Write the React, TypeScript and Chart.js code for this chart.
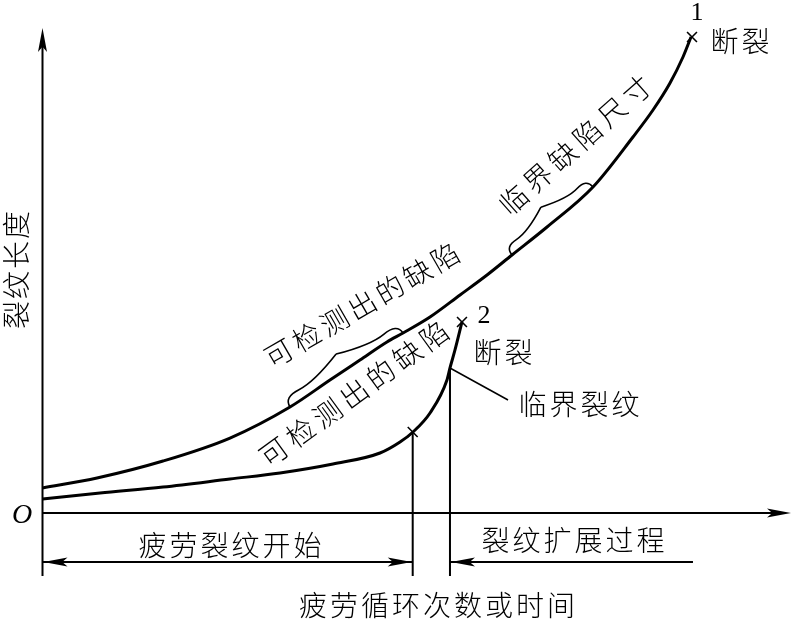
import React, { useEffect, useRef } from "react";
import { Chart, registerables } from "chart.js";
Chart.register(...registerables);

// Scale ranges (abstract units: cycles 0..100, crack length 0..100)
const X_MIN = -5.667;
const X_MAX = 100.067;
const Y_MIN = -22.06;
const Y_MAX = 105.77;

// Curve 1
const curve1X = [0, 7.27, 16.07, 25.0, 33.0, 38.33, 42.33, 45.93, 48.07, 51.67, 55.67, 59.27, 62.6, 67.27, 73.4, 78.73, 81.4, 83.67, 85.4, 86.47];
const curve1Y = [5.15, 7.22, 10.72, 15.46, 21.86, 27.42, 31.55, 35.26, 37.11, 40.41, 44.95, 49.07, 53.2, 58.97, 67.22, 77.53, 83.09, 88.66, 94.02, 98.14];
// Curve 2
const curve2X = [0, 7.67, 16.07, 25.0, 31.67, 38.73, 45.0, 47.67, 49.4, 51.67, 53.93, 54.33, 55.0, 55.93];
const curve2Y = [2.89, 4.12, 5.36, 7.01, 8.25, 10.1, 12.37, 14.64, 16.7, 20.62, 27.42, 29.9, 33.61, 39.38];
// × marks
const markX = [86.6, 55.93, 49.36];
const markY = [98.14, 39.38, 16.7];
// Critical vertical lines
const critX = [49.36, 54.33];
const critTopY = [16.7, 29.9];
const critBottomY = -13;
// Axes extents
const axisXEnd = 99.8;
const axisYEnd = 100;
const axisYBottom = -13;
// Dimension lines
const dimY = -10.1;
const dim1 = [0, 49.36];
const dim2 = [54.33, 86.73];
// Leader line to 临界裂纹
const leaderX = [54.33, 62.07];
const leaderY = [29.9, 23.3];
// Braces (endpoints on curve 1): [xRight, yRight, xLeft, yLeft]
const brace1 = [48.07, 37.11, 33.0, 21.86];
const brace2 = [73.4, 67.22, 62.6, 53.2];

const CJK = "'Noto Sans CJK SC', 'Noto Sans CJK JP', sans-serif";

const labels = [
  { text: "1", x: 87.27, y: 103.1, angle: 0, size: 26, adv: 0, serif: true },
  { text: "断裂", x: 93.0, y: 97.3, angle: 0, size: 28, adv: 31 },
  { text: "2", x: 58.87, y: 40.6, angle: 0, size: 26, adv: 0, serif: true },
  { text: "断裂", x: 61.4, y: 33.2, angle: 0, size: 28, adv: 31 },
  { text: "临界裂纹", x: 71.53, y: 22.47, angle: 0, size: 28, adv: 31 },
  { text: "疲劳裂纹开始", x: 25.0, y: -6.6, angle: 0, size: 28, adv: 31 },
  { text: "裂纹扩展过程", x: 70.73, y: -5.57, angle: 0, size: 28, adv: 31 },
  { text: "疲劳循环次数或时间", x: 52.6, y: -18.97, angle: 0, size: 28, adv: 31 },
  { text: "裂纹长度", x: -3.53, y: 50.1, angle: -90, size: 28, adv: 30 },
  { text: "可检测出的缺陷", x: 42.6, y: 42.89, angle: -30, size: 28, adv: 32 },
  { text: "可检测出的缺陷", x: 41.53, y: 24.64, angle: -36, size: 28, adv: 33 },
  { text: "临界缺陷尺寸", x: 71.0, y: 75.88, angle: -41.6, size: 28, adv: 33 },
];

const pts = (xs: number[], ys: number[]) => xs.map((x, i) => ({ x, y: ys[i] }));

function arrowHead(ctx: CanvasRenderingContext2D, tx: number, ty: number, dirX: number, dirY: number) {
  const len = 24;
  const hw = 4.5;
  const nx = -dirY;
  const ny = dirX;
  const bx = tx - dirX * len;
  const by = ty - dirY * len;
  const kx = tx - dirX * len * 0.78;
  const ky = ty - dirY * len * 0.78;
  ctx.beginPath();
  ctx.moveTo(tx, ty);
  ctx.lineTo(bx + nx * hw, by + ny * hw);
  ctx.lineTo(kx, ky);
  ctx.lineTo(bx - nx * hw, by - ny * hw);
  ctx.closePath();
  ctx.fill();
}

function brace(ctx: CanvasRenderingContext2D, x1: number, y1: number, x2: number, y2: number, w: number) {
  const q = 0.6;
  let dx = x1 - x2;
  let dy = y1 - y2;
  const len = Math.sqrt(dx * dx + dy * dy);
  dx /= len;
  dy /= len;
  const qx1 = x1 + q * w * dy, qy1 = y1 - q * w * dx;
  const qx2 = x1 - 0.25 * len * dx + (1 - q) * w * dy, qy2 = y1 - 0.25 * len * dy - (1 - q) * w * dx;
  const tx1 = x1 - 0.5 * len * dx + w * dy, ty1 = y1 - 0.5 * len * dy - w * dx;
  const qx3 = x2 + q * w * dy, qy3 = y2 - q * w * dx;
  const qx4 = x1 - 0.75 * len * dx + (1 - q) * w * dy, qy4 = y1 - 0.75 * len * dy - (1 - q) * w * dx;
  const m1x = (qx1 + qx2) / 2, m1y = (qy1 + qy2) / 2;
  const m2x = (qx3 + qx4) / 2, m2y = (qy3 + qy4) / 2;
  ctx.beginPath();
  ctx.moveTo(x1, y1);
  ctx.quadraticCurveTo(qx1, qy1, m1x, m1y);
  ctx.quadraticCurveTo(qx2, qy2, tx1, ty1);
  ctx.moveTo(x2, y2);
  ctx.quadraticCurveTo(qx3, qy3, m2x, m2y);
  ctx.quadraticCurveTo(qx4, qy4, tx1, ty1);
  ctx.stroke();
}

function drawSpaced(ctx: CanvasRenderingContext2D, text: string, cx: number, cy: number, angleDeg: number, adv: number, font: string) {
  const chars = Array.from(text);
  const n = chars.length;
  const a = (angleDeg * Math.PI) / 180;
  ctx.save();
  ctx.font = font;
  ctx.textAlign = "center";
  ctx.textBaseline = "middle";
  ctx.fillStyle = "#000";
  chars.forEach((ch, i) => {
    const o = (i - (n - 1) / 2) * adv;
    const px = cx + o * Math.cos(a);
    const py = cy + o * Math.sin(a);
    ctx.save();
    ctx.translate(px, py);
    ctx.rotate(a);
    ctx.fillText(ch, 0, 0);
    ctx.restore();
  });
  ctx.restore();
}

const decorPlugin = {
  id: "decor",
  afterDatasetsDraw(chart: any) {
    const ctx: CanvasRenderingContext2D = chart.ctx;
    const xs = chart.scales.x;
    const ys = chart.scales.y;
    const px = (v: number) => xs.getPixelForValue(v);
    const py = (v: number) => ys.getPixelForValue(v);
    ctx.save();
    ctx.fillStyle = "#000";
    ctx.strokeStyle = "#000";
    arrowHead(ctx, px(axisXEnd), py(0), 1, 0);
    arrowHead(ctx, px(0), py(axisYEnd), 0, -1);
    arrowHead(ctx, px(dim1[0]) + 1, py(dimY), -1, 0);
    arrowHead(ctx, px(dim1[1]) - 1, py(dimY), 1, 0);
    arrowHead(ctx, px(dim2[0]) + 1, py(dimY), -1, 0);
    ctx.lineWidth = 1.6;
    brace(ctx, px(brace1[0]), py(brace1[1]), px(brace1[2]), py(brace1[3]), 19);
    brace(ctx, px(brace2[0]), py(brace2[1]), px(brace2[2]), py(brace2[3]), 18);
    labels.forEach((l) => {
      const font = l.serif ? `${l.size}px 'Liberation Serif', serif` : `300 ${l.size}px ${CJK}`;
      if (l.serif) {
        ctx.save();
        ctx.font = font;
        ctx.textAlign = "center";
        ctx.textBaseline = "middle";
        ctx.fillText(l.text, px(l.x), py(l.y));
        ctx.restore();
      } else {
        drawSpaced(ctx, l.text, px(l.x), py(l.y), l.angle, l.adv, font);
      }
    });
    ctx.font = "italic 28px 'Liberation Serif', serif";
    ctx.textAlign = "center";
    ctx.textBaseline = "middle";
    ctx.fillText("O", px(-2.73), py(-0.62));
    ctx.restore();
  },
};

export default function App() {
  const ref = useRef<HTMLCanvasElement | null>(null);
  useEffect(() => {
    document.body.style.margin = "0";
    const canvas = ref.current!;
    const line = (data: any[], width: number) => ({
      data,
      showLine: true,
      borderColor: "#000",
      backgroundColor: "#000",
      borderWidth: width,
      pointRadius: 0,
      fill: false,
    });
    const chart = new Chart(canvas, {
      type: "scatter",
      data: {
        datasets: [
          { ...line(pts(curve1X, curve1Y), 3), cubicInterpolationMode: "monotone" },
          { ...line(pts(curve2X, curve2Y), 3), cubicInterpolationMode: "monotone" },
          line([{ x: 0, y: 0 }, { x: axisXEnd - 2, y: 0 }], 2),
          line([{ x: 0, y: axisYBottom }, { x: 0, y: axisYEnd - 3 }], 2),
          line([{ x: critX[0], y: critTopY[0] }, { x: critX[0], y: critBottomY }], 2),
          line([{ x: critX[1], y: critTopY[1] }, { x: critX[1], y: critBottomY }], 2),
          line([{ x: dim1[0], y: dimY }, { x: dim1[1], y: dimY }], 2),
          line([{ x: dim2[0], y: dimY }, { x: dim2[1], y: dimY }], 2),
          line(pts(leaderX, leaderY), 1.5),
          {
            data: pts(markX, markY),
            showLine: false,
            pointStyle: "crossRot",
            pointRadius: 7,
            borderWidth: 1.6,
            borderColor: "#000",
            backgroundColor: "#000",
          },
        ] as any,
      },
      options: {
        animation: false,
        responsive: false,
        maintainAspectRatio: false,
        devicePixelRatio: 1,
        layout: { padding: 0, autoPadding: false },
        plugins: { legend: { display: false }, tooltip: { enabled: false } },
        events: [],
        scales: {
          x: { type: "linear", min: X_MIN, max: X_MAX, display: false },
          y: { type: "linear", min: Y_MIN, max: Y_MAX, display: false },
        },
      } as any,
      plugins: [decorPlugin],
    });
    return () => chart.destroy();
  }, []);
  return (
    <div style={{ width: 793, height: 620, background: "#fff" }}>
      <canvas ref={ref} width={793} height={620} style={{ display: "block" }} />
    </div>
  );
}
